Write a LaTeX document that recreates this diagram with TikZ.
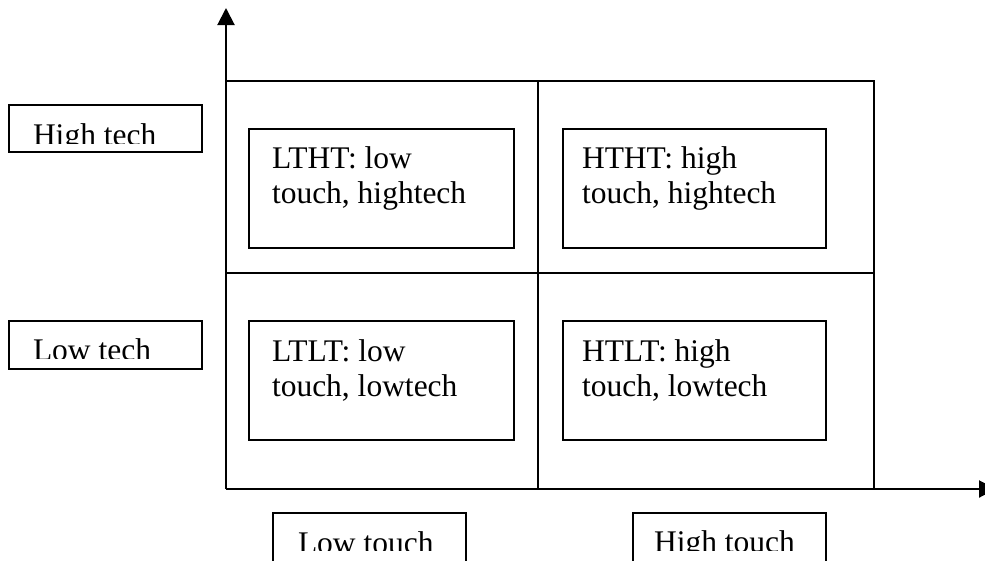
\documentclass[tikz,border=0pt]{standalone}
\usepackage{fontspec}
\setmainfont{Liberation Serif}
\usetikzlibrary{arrows.meta}
\begin{document}
\begin{tikzpicture}[x=1pt,y=-1pt,line width=2pt,
  txt/.style={anchor=base west,inner sep=0pt,font=\fontsize{31.5}{35}\selectfont},
  cellbox/.style={draw,inner sep=0pt,minimum height=119pt},
  labbox/.style={draw,inner sep=0pt,minimum width=193pt},
  axis/.style={-{Triangle[length=17pt,width=17pt]}}]
\clip (0,0) rectangle (985,560);
\useasboundingbox (0,0) rectangle (985,560);
% grid corners
\coordinate (o) at (226,489);
\coordinate (tl) at (226,81);
\coordinate (tr) at (874,81);
\coordinate (br) at (874,489);
\coordinate (mt) at (538,81);
\coordinate (mb) at (538,489);
\coordinate (ml) at (226,273);
\coordinate (mr) at (874,273);
\coordinate (ytip) at (226,8);
\coordinate (xtip) at (996,489);
% axes
\draw[axis] (o) -- (ytip);
\draw[axis] (o) -- (xtip);
% grid
\draw (tl) -- (tr) -- (br);
\draw (mt) -- (mb);
\draw (ml) -- (mr);
% cells
\node[cellbox,minimum width=265pt] (lthtbox) at (381.5,188.5) {};
\node[cellbox,minimum width=263pt] (hthtbox) at (694.5,188.5) {};
\node[cellbox,minimum width=265pt] (ltltbox) at (381.5,380.5) {};
\node[cellbox,minimum width=263pt] (htltbox) at (694.5,380.5) {};
\node[txt] (ltht) at (271,168.5) {\begin{tabular}[t]{@{}l@{}}LTHT: low\\touch, hightech\end{tabular}};
\node[txt] (htht) at (581,168.5) {\begin{tabular}[t]{@{}l@{}}HTHT: high\\touch, hightech\end{tabular}};
\node[txt] (ltlt) at (271,361) {\begin{tabular}[t]{@{}l@{}}LTLT: low\\touch, lowtech\end{tabular}};
\node[txt] (htlt) at (581,361) {\begin{tabular}[t]{@{}l@{}}HTLT: high\\touch, lowtech\end{tabular}};
% axis label boxes
\node[labbox,minimum height=47pt] (hibox) at (105.5,128.5) {};
\node[labbox,minimum height=48pt] (lobox) at (105.5,345) {};
\node[labbox,minimum height=67pt] (ltbox) at (369.5,546.5) {};
\node[labbox,minimum height=67pt] (htbox) at (729,546.5) {};
\begin{scope}
\clip (9,105) rectangle (202,143);
\node[txt] (hitxt) at (32,145) {High tech};
\end{scope}
\begin{scope}
\clip (9,321) rectangle (202,358);
\node[txt] (lotxt) at (32,360) {Low tech};
\end{scope}
\begin{scope}
\clip (273,513) rectangle (466,550);
\node[txt] (lttxt) at (297,553) {Low touch};
\end{scope}
\begin{scope}
\clip (633,513) rectangle (825,550);
\node[txt] (httxt) at (653,552.5) {High touch};
\end{scope}
\end{tikzpicture}
\end{document}
